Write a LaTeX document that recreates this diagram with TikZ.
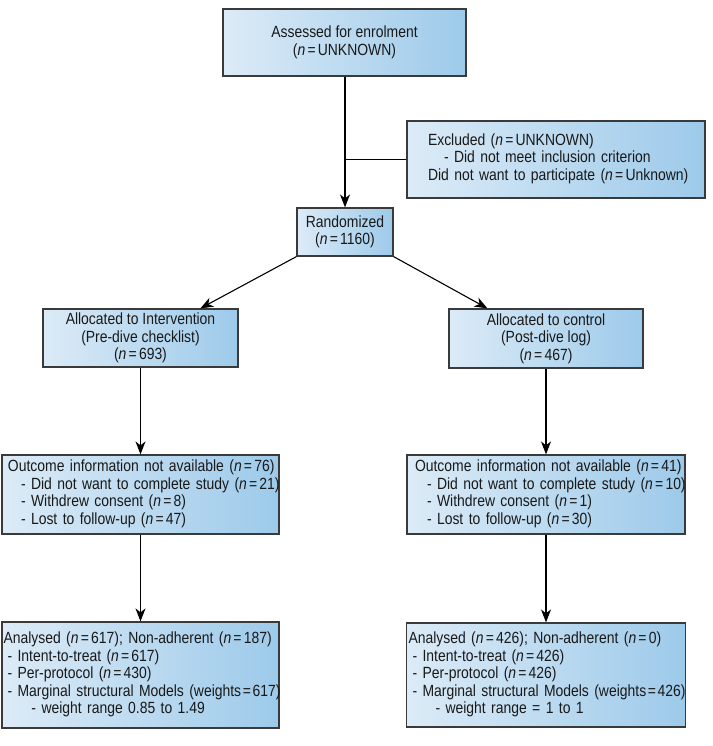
\documentclass[tikz,border=0pt]{standalone}
\usepackage{fontspec}
\setmainfont[FakeStretch=0.86]{Liberation Sans}
\usetikzlibrary{arrows.meta,calc}
\definecolor{boxleft}{HTML}{DCEBF7}
\definecolor{boxright}{HTML}{9DCAEA}
\definecolor{boxline}{HTML}{3A3A3A}
\newcommand{\nv}[1]{(\textit{n}\kern2.2pt=\kern2.2pt#1)}
\begin{document}
\begin{tikzpicture}[x=1pt,y=-1pt,
  box/.style={draw=boxline, line width=1.2pt, left color=boxleft, right color=boxright,
    inner sep=0pt, font=\fontsize{16.2}{17.5}\selectfont, text=black!90},
  cbox/.style={box, align=center},
  conn/.style={draw=black, line width=1.1pt, -{Stealth[length=13pt,width=10pt,inset=4pt]}},
  plain/.style={draw=black, line width=1.1pt}]
\useasboundingbox (0,0) rectangle (712,746);

\node[cbox, minimum width=243pt, minimum height=67pt] (A) at (344.5,42.5)
  {Assessed for enrolment\\\nv{UNKNOWN}};

\node[box, minimum width=298pt, minimum height=77pt, inner xsep=21pt, text width=256pt] (E) at (556,159.5)
  {\begin{tabular}{@{}l@{}}Excluded \nv{UNKNOWN}\\
   \hspace*{16pt}- Did not meet inclusion criterion\\
   Did not want to participate \nv{Unknown}\end{tabular}};

\node[cbox, minimum width=96pt, minimum height=48pt] (R) at (345,232)
  {Randomized\\\nv{1160}};

\node[cbox, minimum width=195pt, minimum height=58pt] (I) at (140.5,338)
  {Allocated to Intervention\\(Pre-dive checklist)\\\nv{693}};

\node[cbox, minimum width=194pt, minimum height=59pt] (C) at (546,338.5)
  {Allocated to control\\(Post-dive log)\\\nv{467}};

\node[box, minimum width=277pt, minimum height=79pt, inner xsep=6pt, text width=265pt] (OL) at (140.5,494.5)
  {\begin{tabular}{@{}l@{}}Outcome information not available \nv{76}\\
   \hspace*{13pt}- Did not want to complete study \nv{21}\\
   \hspace*{13pt}- Withdrew consent \nv{8}\\
   \hspace*{13pt}- Lost to follow-up \nv{47}\end{tabular}};

\node[box, minimum width=278pt, minimum height=79pt, inner xsep=8pt, text width=262pt] (OR) at (546,494.5)
  {\begin{tabular}{@{}l@{}}Outcome information not available \nv{41}\\
   \hspace*{12pt}- Did not want to complete study \nv{10}\\
   \hspace*{12pt}- Withdrew consent \nv{1}\\
   \hspace*{12pt}- Lost to follow-up \nv{30}\end{tabular}};

\node[box, minimum width=277pt, minimum height=106pt, inner xsep=1.5pt, text width=274pt] (AL) at (140.5,675)
  {\begin{tabular}{@{}l@{}}Analysed \nv{617}; Non-adherent \nv{187}\\
   \hspace*{4pt}- Intent-to-treat \nv{617}\\
   \hspace*{4pt}- Per-protocol \nv{430}\\
   \hspace*{4pt}- Marginal structural Models (weights\kern1.6pt=\kern1.6pt617)\\
   \hspace*{28pt}- weight range 0.85 to 1.49\end{tabular}};

\node[box, minimum width=279pt, minimum height=104pt, inner xsep=2pt, text width=275pt] (AR) at (546,675)
  {\begin{tabular}{@{}l@{}}Analysed \nv{426}; Non-adherent \nv{0}\\
   \hspace*{4pt}- Intent-to-treat \nv{426}\\
   \hspace*{4pt}- Per-protocol \nv{426}\\
   \hspace*{4pt}- Marginal structural Models (weights\kern1.6pt=\kern1.6pt426)\\
   \hspace*{27pt}- weight range = 1 to 1\end{tabular}};

\draw[conn] (R.north |- A.south) -- (R.north);
\draw[plain] (R.north |- E.west) -- (E.west);
\draw[conn] (R.south west) -- ($(I.north west)!0.805!(I.north east)$);
\draw[conn] (R.south east) -- ($(C.north west)!0.2!(C.north east)$);
\draw[conn] (I.south) -- (OL.north);
\draw[conn] (OL.south) -- (AL.north);
\draw[conn] (C.south) -- (OR.north);
\draw[conn] (OR.south) -- (AR.north);
\end{tikzpicture}
\end{document}
